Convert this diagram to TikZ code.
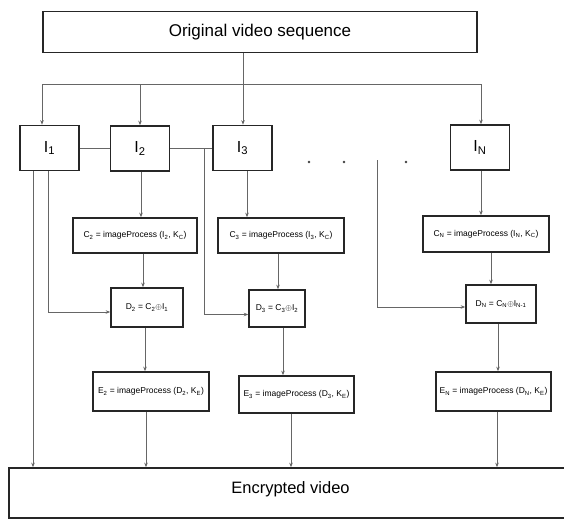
\documentclass[tikz,border=0pt]{standalone}
\usepackage{fontspec}
\setmainfont{Liberation Sans}
\usetikzlibrary{arrows.meta}
\begin{document}
\begin{tikzpicture}[x=1pt,y=-1pt,
  box/.style={draw=black!85,line width=1.6pt,inner sep=0pt,align=center},
  ibox/.style={box,minimum width=59pt,minimum height=45pt,font=\fontsize{16}{18}\selectfont},
  sbox/.style={box,font=\fontsize{8.5}{10}\selectfont},
  link/.style={draw=black!60,line width=0.8pt},
  arr/.style={link,-{Stealth[length=4.5pt,width=3.5pt]}},
  dot/.style={fill=black!75}]
\useasboundingbox (0,0) rectangle (564,520);

% source and frames
\node[box,minimum width=434pt,minimum height=41pt,font=\fontsize{17}{20}\selectfont] (src) at (260,32) {Original video sequence};
\node[ibox] (I1) at (49.5,148) {I\textsubscript{1}};
\node[ibox] (I2) at (140,148.5) {I\textsubscript{2}};
\node[ibox] (I3) at (242.5,148) {I\textsubscript{3}};
\node[ibox] (IN) at (480,147.5) {I\textsubscript{N}};

% processing chain, frame 2
\node[sbox,minimum width=124pt,minimum height=35pt] (C2) at (135,235.5) {C\textsubscript{2} = imageProcess (I\textsubscript{2}, K\textsubscript{C})};
\node[sbox,minimum width=72pt,minimum height=39pt] (D2) at (147,307.5) {D\textsubscript{2} = C\textsubscript{2}$\oplus$I\textsubscript{1}};
\node[sbox,minimum width=116pt,minimum height=39pt] (E2) at (151,391.5) {E\textsubscript{2} = imageProcess (D\textsubscript{2}, K\textsubscript{E})};

% processing chain, frame 3
\node[sbox,minimum width=126pt,minimum height=35pt] (C3) at (281,235.5) {C\textsubscript{3} = imageProcess (I\textsubscript{3}, K\textsubscript{C})};
\node[sbox,minimum width=56pt,minimum height=37pt] (D3) at (277,308.5) {D\textsubscript{3} = C\textsubscript{3}$\oplus$I\textsubscript{2}};
\node[sbox,minimum width=115pt,minimum height=37pt] (E3) at (296.5,394.5) {E\textsubscript{3} = imageProcess (D\textsubscript{3}, K\textsubscript{E})};

% processing chain, frame N
\node[sbox,minimum width=126pt,minimum height=36pt] (CN) at (486,234) {C\textsubscript{N} = imageProcess (I\textsubscript{N}, K\textsubscript{C})};
\node[sbox,minimum width=70pt,minimum height=38pt] (DN) at (501,304) {D\textsubscript{N} = C\textsubscript{N}$\oplus$I\textsubscript{N-1}};
\node[sbox,minimum width=115pt,minimum height=39pt] (EN) at (493.5,391.5) {E\textsubscript{N} = imageProcess (D\textsubscript{N}, K\textsubscript{E})};

% output
\node[box,minimum width=563pt,minimum height=50pt,
  label={[font=\fontsize{16.5}{19}\selectfont,yshift=4pt]center:Encrypted video}] (enc) at (290.5,493) {};

% distribution bus
\coordinate (b1) at (42,84);
\coordinate (b2) at (140,84);
\coordinate (b3) at (243,84);
\coordinate (b4) at (481,84);
\draw[link] (src.south -| b3) -- (b3);
\draw[link] (b1) -- (b4);
\draw[arr] (b1) -- (I1.north -| b1);
\draw[arr] (b2) -- (I2.north -| b2);
\draw[arr] (b3) -- (I3.north -| b3);
\draw[arr] (b4) -- (IN.north -| b4);

% links between neighbouring frames
\draw[link] (I1.east) -- (I1.east -| I2.west);
\draw[link] (I2.east) -- (I2.east -| I3.west);
\coordinate (j3) at (204,148.5);
\draw[arr] (j3) |- ([yshift=-6pt]D3.west);

% first frame goes straight through and feeds D2
\coordinate (a0) at (33,0);
\coordinate (a1) at (48,0);
\draw[arr] (I1.south -| a0) -- (enc.north -| a0);
\draw[arr] (I1.south -| a1) |- ([yshift=-4.5pt]D2.west);

% column 2
\coordinate (k2a) at (141,0);
\coordinate (k2b) at (143,0);
\coordinate (k2c) at (145,0);
\coordinate (k2d) at (146,0);
\draw[arr] (I2.south -| k2a) -- (C2.north -| k2a);
\draw[arr] (C2.south -| k2b) -- (D2.north -| k2b);
\draw[arr] (D2.south -| k2c) -- (E2.north -| k2c);
\draw[arr] (E2.south -| k2d) -- (enc.north -| k2d);

% column 3
\coordinate (k3a) at (247,0);
\coordinate (k3b) at (278,0);
\coordinate (k3c) at (283,0);
\coordinate (k3d) at (291,0);
\draw[arr] (I3.south -| k3a) -- (C3.north -| k3a);
\draw[arr] (C3.south -| k3b) -- (D3.north -| k3b);
\draw[arr] (D3.south -| k3c) -- (E3.north -| k3c);
\draw[arr] (E3.south -| k3d) -- (enc.north -| k3d);

% column N
\coordinate (kna) at (481,0);
\coordinate (knb) at (491,0);
\coordinate (knc) at (498,0);
\coordinate (knd) at (497,0);
\draw[arr] (IN.south -| kna) -- (CN.north -| kna);
\draw[arr] (CN.south -| knb) -- (DN.north -| knb);
\draw[arr] (DN.south -| knc) -- (EN.north -| knc);
\draw[arr] (EN.south -| knd) -- (enc.north -| knd);

% elided frames
\fill[dot] (309,162) circle (1.3pt);
\fill[dot] (344,162) circle (1.3pt);
\fill[dot] (406,162) circle (1.3pt);
\coordinate (tn) at (377,160);
\draw[arr] (tn) |- ([yshift=-3pt]DN.west);
\end{tikzpicture}
\end{document}
